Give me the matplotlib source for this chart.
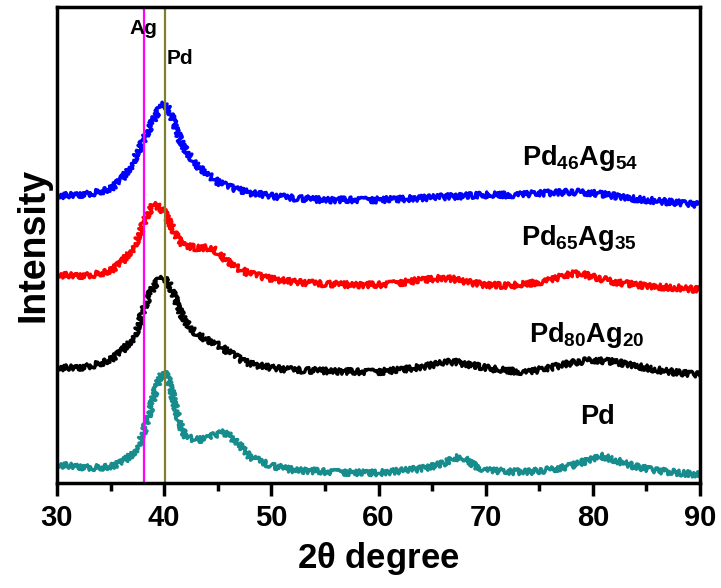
import matplotlib
matplotlib.use('Agg')
import matplotlib.pyplot as plt

plt.rcParams['font.family'] = ['Liberation Sans', 'DejaVu Sans']
plt.rcParams['mathtext.fontset'] = 'custom'
plt.rcParams['mathtext.rm'] = 'Liberation Sans:bold'
plt.rcParams['mathtext.bf'] = 'Liberation Sans:bold'
plt.rcParams['mathtext.it'] = 'Liberation Sans:bold'

# XRD patterns, stacked (a.u.)
theta_pd46ag54 = [30, 32, 34, 35, 36, 37, 37.5, 38, 38.5, 39, 39.5, 40, 40.5, 41, 41.5, 42,
                  43, 44, 45, 46, 47, 48, 50, 52, 55, 58, 60, 62, 64, 66, 68, 70, 72, 74,
                  76, 78, 80, 82, 84, 86, 88, 90]
int_pd46ag54 = [287, 288, 291, 294, 303, 318, 330, 341, 352, 363, 373, 379, 373, 358, 343, 333,
                318, 309, 301, 296, 293, 290, 287, 285, 283, 283, 283, 284, 285, 286, 287, 288, 288, 289,
                290, 291, 290, 287, 284, 282, 280, 278]

theta_pd65ag35 = [30, 32, 34, 35, 36, 37, 37.5, 38, 38.5, 39, 39.5, 40, 40.5, 41, 41.5, 42,
                  43, 44, 44.5, 45, 46, 47, 48, 50, 52, 55, 58, 60, 62, 64, 66, 67, 68, 70,
                  72, 74, 76, 78, 79, 80, 82, 84, 86, 88, 90]
int_pd65ag35 = [208, 207, 209, 212, 220, 233, 243, 257, 270, 278, 276, 271, 261, 250, 241, 237,
                235, 235, 235, 230, 221, 214, 209, 204, 201, 199, 198, 198, 200, 203, 205, 204, 201, 198,
                197, 199, 203, 209, 209, 206, 201, 198, 196, 195, 193]

theta_pd80ag20 = [30, 32, 34, 35, 36, 37, 37.5, 38, 38.5, 39, 39.5, 40, 40.5, 41, 41.5, 42,
                  43, 44, 45, 46, 47, 48, 50, 52, 55, 58, 60, 62, 64, 66, 67, 68, 70, 72,
                  74, 76, 78, 80, 82, 84, 86, 88, 90]
int_pd80ag20 = [115, 115, 119, 123, 131, 143, 153, 171, 185, 196, 203, 205, 198, 186, 171, 161,
                149, 143, 138, 131, 124, 119, 115, 113, 112, 111, 111, 113, 116, 120, 121, 119, 115, 112,
                111, 115, 120, 123, 121, 117, 113, 110, 108]

theta_pd = [30, 32, 34, 35, 36, 37, 37.5, 38, 38.5, 39, 39.5, 40, 40.5, 41, 41.5, 42,
            43, 44, 45, 45.5, 46, 47, 48, 50, 52, 55, 58, 60, 62, 64, 66, 67, 67.6, 68,
            69, 70, 72, 74, 76, 78, 80, 80.7, 81, 82, 84, 86, 88, 90]
int_pd = [18, 16, 15, 16, 20, 28, 35, 48, 65, 85, 103, 112, 101, 78, 58, 46,
          43, 44, 49, 50, 48, 38, 26, 17, 13, 11, 10, 10, 12, 14, 19, 24, 26, 24,
          17, 13, 11, 11, 13, 17, 24, 27, 26, 23, 16, 12, 10, 8]

ref_lines = {'Ag': 38.1, 'Pd': 40.1}

fig = plt.figure(figsize=(7.21, 5.88), dpi=100)
ax = fig.add_axes([0.079, 0.179, 0.892, 0.809])

series = [
    (theta_pd46ag54, int_pd46ag54, '#0000ff', r'$\mathbf{Pd_{46}Ag_{54}}$', 73.4, 325),
    (theta_pd65ag35, int_pd65ag35, '#ff0000', r'$\mathbf{Pd_{65}Ag_{35}}$', 73.3, 245),
    (theta_pd80ag20, int_pd80ag20, '#000000', r'$\mathbf{Pd_{80}Ag_{20}}$', 74.0, 148),
    (theta_pd, int_pd, '#178c8c', 'Pd', 78.8, 66),
]
for tt, yy, col, lab, lx, ly in series:
    ln, = ax.plot(tt, yy, color=col, lw=2.4, solid_joinstyle='round')
    # rough look of the raw scan
    ln.set_sketch_params(scale=3.0, length=0.8, randomness=2.5)
    ax.text(lx, ly, lab, fontsize=19.5, fontweight='bold', ha='left', va='center')

ax.axvline(ref_lines['Ag'], color='#ff00ff', lw=1.6)
ax.axvline(ref_lines['Pd'], color='#808030', lw=1.6)
ax.text(ref_lines['Ag'], 455, 'Ag', fontsize=15, fontweight='bold', ha='center', va='center')
ax.text(40.26, 425, 'Pd', fontsize=15, fontweight='bold', ha='left', va='center')

ax.set_xlim(30, 90)
ax.set_ylim(0, 476)
ax.set_xticks(range(30, 91, 10))
ax.set_xticks(range(35, 90, 10), minor=True)
ax.set_yticks([])
ax.tick_params(axis='x', which='major', direction='out', length=9, width=2.5,
               labelsize=21, pad=6)
ax.tick_params(axis='x', which='minor', direction='out', length=6, width=2.5)
for lbl in ax.get_xticklabels():
    lbl.set_fontweight('bold')
for sp in ax.spines.values():
    sp.set_linewidth(2.5)

ax.set_xlabel(r'2$\mathbf{\theta}$ degree', fontsize=25, fontweight='bold', labelpad=6)
ax.set_ylabel('Intensity', fontsize=27, fontweight='bold', labelpad=4)

plt.savefig('out.png', dpi=100)
